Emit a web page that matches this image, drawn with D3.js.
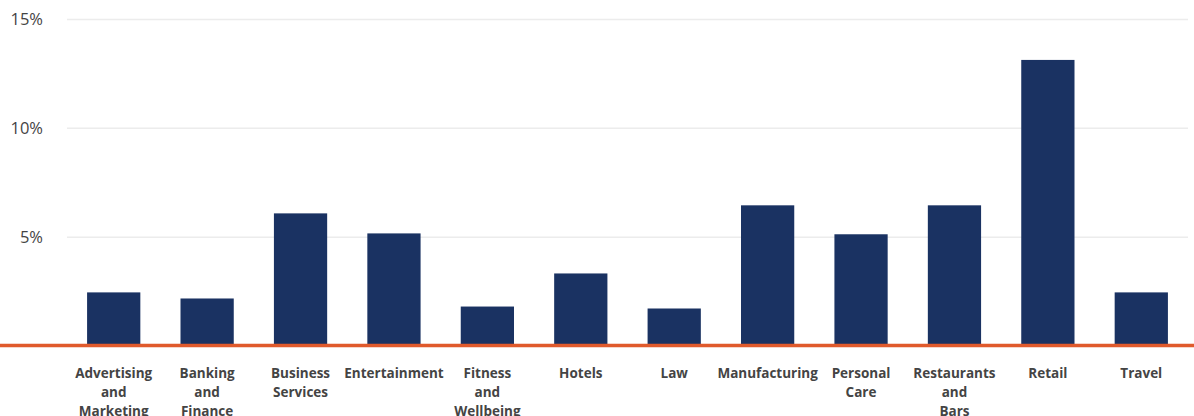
<!DOCTYPE html>
<html>
<head>
<meta charset="utf-8">
<script src="https://cdn.jsdelivr.net/npm/d3@7"></script>
<style>
  body { margin: 0; background: #fff; }
  text { font-family: "Open Sans", "Lato", sans-serif; }
</style>
</head>
<body>
<div id="chart"></div>
<script>
// data
const categories = ["Advertising and Marketing", "Banking and Finance", "Business Services", "Entertainment",
  "Fitness and Wellbeing", "Hotels", "Law", "Manufacturing", "Personal Care", "Restaurants and Bars", "Retail", "Travel"];
const values = [2.44, 2.16, 6.07, 5.15, 1.79, 3.31, 1.70, 6.44, 5.11, 6.44, 13.12, 2.44];
const yTicks = [5, 10, 15];

const W = 1194, H = 416;
const margin = { top: 19, right: 6, bottom: 71, left: 67 };
const width = W - margin.left - margin.right;
const height = H - margin.top - margin.bottom;

const svg = d3.select("#chart").append("svg")
  .attr("width", W).attr("height", H)
  .append("g")
  .attr("transform", `translate(${margin.left},${margin.top})`);

const x = d3.scaleBand().domain(categories).range([0, width])
  .paddingInner(0.43).paddingOuter(0.215);
const y = d3.scaleLinear().domain([0, 15]).range([height + 0.5, 0]);

// gridlines + y labels
const yAxis = svg.append("g")
  .call(d3.axisLeft(y).tickValues(yTicks).tickSize(-width).tickFormat(d => d + "%"));
yAxis.select(".domain").remove();
yAxis.selectAll("line").attr("stroke", "#ececec").attr("stroke-width", 1.5);
yAxis.selectAll("text")
  .attr("x", -24).attr("dy", "0.35em")
  .attr("fill", "#444").style("font-size", "16.5px").style("font-weight", 400);

// bars
svg.selectAll("rect.bar")
  .data(values)
  .join("rect")
  .attr("class", "bar")
  .attr("x", (d, i) => x(categories[i]))
  .attr("y", d => y(d))
  .attr("width", x.bandwidth())
  .attr("height", d => y(0) - y(d))
  .attr("fill", "#1a3262");

// zero line
svg.append("line")
  .attr("x1", -margin.left).attr("x2", width + margin.right)
  .attr("y1", y(0)).attr("y2", y(0))
  .attr("stroke", "#e05a2c").attr("stroke-width", 3.5);

// x labels, one word per line
const xl = svg.append("g").selectAll("text")
  .data(categories)
  .join("text")
  .attr("x", d => x(d) + x.bandwidth() / 2)
  .attr("y", y(0) + 32)
  .attr("text-anchor", "middle")
  .attr("fill", "#444")
  .style("font-size", "13.5px")
  .style("font-weight", "bold");
xl.each(function(d) {
  const t = d3.select(this);
  d.split(" ").forEach((w, i) => {
    t.append("tspan").attr("x", t.attr("x")).attr("dy", i ? 19 : 0).text(w);
  });
});
</script>
</body>
</html>
